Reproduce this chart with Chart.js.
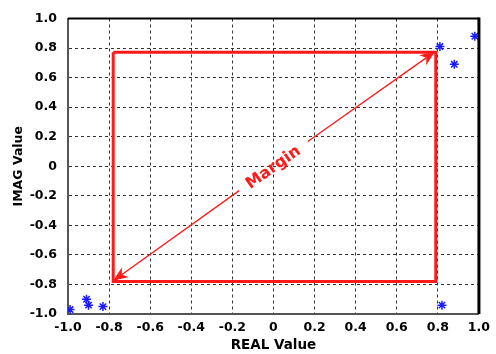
<!DOCTYPE html>
<html>
<head>
<meta charset="utf-8">
<script src="https://cdn.jsdelivr.net/npm/chart.js@4/dist/chart.umd.min.js"></script>
<style>
  html, body { margin: 0; padding: 0; background: #fff; }
  #wrap { width: 496px; height: 354px; }
</style>
</head>
<body>
<div id="wrap"><canvas id="chart"></canvas></div>
<script>
// measured constellation points
var pointsX = [0.98, 0.81, 0.88, 0.82, -0.99, -0.91, -0.90, -0.83];
var pointsY = [0.88, 0.81, 0.69, -0.94, -0.97, -0.90, -0.94, -0.95];

// margin box
var boxX = [-0.78, 0.79, 0.79, -0.78, -0.78];
var boxY = [0.772, 0.772, -0.78, -0.78, 0.772];

// double arrow, split around the label
var arrowX = [-0.78, -0.167, null, 0.167, 0.786];
var arrowY = [-0.775, -0.165, null, 0.167, 0.776];

var tickValues = [-1.0, -0.8, -0.6, -0.4, -0.2, 0, 0.2, 0.4, 0.6, 0.8, 1.0];
var tickLabels = ['-1.0', '-0.8', '-0.6', '-0.4', '-0.2', '0', '0.2', '0.4', '0.6', '0.8', '1.0'];
var labelText = 'Margin';
var labelAt = [0, -0.01];

var RED = '#ff1a1a';
var FONT = "'DejaVu Sans', sans-serif";

function toXY(xs, ys) {
  return xs.map(function (x, i) { return { x: x, y: (x === null ? null : ys[i]) }; });
}

function tickLabel(v) {
  for (var i = 0; i < tickValues.length; i++) {
    if (Math.abs(tickValues[i] - v) < 1e-6) return tickLabels[i];
  }
  return '';
}

function arrowHead(ctx, x1, y1, x2, y2) {
  var a = Math.atan2(y2 - y1, x2 - x1);
  var len = 15, w = 6;
  ctx.beginPath();
  ctx.moveTo(x2, y2);
  ctx.lineTo(x2 - len * Math.cos(a) + w * Math.sin(a), y2 - len * Math.sin(a) - w * Math.cos(a));
  ctx.lineTo(x2 - len * Math.cos(a) * 0.7, y2 - len * Math.sin(a) * 0.7);
  ctx.lineTo(x2 - len * Math.cos(a) - w * Math.sin(a), y2 - len * Math.sin(a) + w * Math.cos(a));
  ctx.closePath();
  ctx.fill();
}

var extras = {
  id: 'extras',
  afterDatasetsDraw: function (chart) {
    var ctx = chart.ctx, xs = chart.scales.x, ys = chart.scales.y, a = chart.chartArea;
    ctx.save();
    // arrow heads
    ctx.fillStyle = RED;
    var p0 = [xs.getPixelForValue(arrowX[0]), ys.getPixelForValue(arrowY[0])];
    var p1 = [xs.getPixelForValue(arrowX[1]), ys.getPixelForValue(arrowY[1])];
    var p3 = [xs.getPixelForValue(arrowX[3]), ys.getPixelForValue(arrowY[3])];
    var p4 = [xs.getPixelForValue(arrowX[4]), ys.getPixelForValue(arrowY[4])];
    arrowHead(ctx, p1[0], p1[1], p0[0], p0[1]);
    arrowHead(ctx, p3[0], p3[1], p4[0], p4[1]);
    // label
    var ang = Math.atan2(p4[1] - p0[1], p4[0] - p0[0]);
    ctx.translate(xs.getPixelForValue(labelAt[0]), ys.getPixelForValue(labelAt[1]));
    ctx.rotate(ang);
    ctx.font = 'bold 16px ' + FONT;
    ctx.textAlign = 'center';
    ctx.textBaseline = 'middle';
    ctx.fillText(labelText, 0, 0);
    ctx.restore();
    // top and right frame
    ctx.save();
    ctx.strokeStyle = '#000';
    ctx.lineWidth = 2;
    ctx.beginPath();
    ctx.moveTo(a.left, a.top);
    ctx.lineTo(a.right, a.top);
    ctx.stroke();
    ctx.lineWidth = 3;
    ctx.beginPath();
    ctx.moveTo(a.right, a.top - 1);
    ctx.lineTo(a.right, a.bottom);
    ctx.stroke();
    ctx.restore();
  }
};

var gridOpts = {
  color: '#333',
  lineWidth: 1,
  drawTicks: false
};

new Chart(document.getElementById('chart').getContext('2d'), {
  type: 'scatter',
  data: {
    datasets: [
      {
        label: 'box',
        type: 'line',
        data: toXY(boxX, boxY),
        borderColor: RED,
        borderWidth: 3,
        pointRadius: 0,
        fill: false,
        tension: 0
      },
      {
        label: 'arrow',
        type: 'line',
        data: toXY(arrowX, arrowY),
        borderColor: RED,
        borderWidth: 1.3,
        pointRadius: 0,
        spanGaps: false,
        fill: false
      },
      {
        label: 'points',
        data: toXY(pointsX, pointsY),
        pointStyle: 'star',
        pointRadius: 4.5,
        borderColor: '#1a1aff',
        backgroundColor: '#1a1aff',
        borderWidth: 1.5
      }
    ]
  },
  plugins: [extras],
  options: {
    responsive: true,
    maintainAspectRatio: false,
    animation: false,
    layout: { padding: { left: 0, right: 16, top: 13, bottom: 0 } },
    plugins: { legend: { display: false }, tooltip: { enabled: false } },
    scales: {
      x: {
        type: 'linear',
        min: -1, max: 1,
        afterFit: function (s) { s.height = 40; },
        afterBuildTicks: function (s) { s.ticks = tickValues.map(function (v) { return { value: v }; }); },
        ticks: {
          callback: tickLabel,
          padding: 6,
          color: '#000',
          font: { family: FONT, size: 12.5, weight: 'bold' },
          maxRotation: 0
        },
        grid: Object.assign({ }, gridOpts),
        border: { color: '#555', width: 2, dash: [3, 3] },
        title: {
          display: true,
          text: 'REAL Value',
          color: '#000',
          font: { family: FONT, size: 13.5, weight: 'bold' },
          padding: { top: 0, bottom: 0 }
        }
      },
      y: {
        type: 'linear',
        min: -1, max: 1,
        afterFit: function (s) { s.width = 68; },
        afterBuildTicks: function (s) { s.ticks = tickValues.map(function (v) { return { value: v }; }); },
        ticks: {
          callback: tickLabel,
          padding: 11,
          color: '#000',
          font: { family: FONT, size: 12.5, weight: 'bold' }
        },
        grid: Object.assign({ }, gridOpts),
        border: { color: '#555', width: 2, dash: [3, 3] },
        title: {
          display: true,
          text: 'IMAG Value',
          color: '#000',
          font: { family: FONT, size: 12.5, weight: 'bold' },
          padding: { top: 11, bottom: 0 }
        }
      }
    }
  }
});
</script>
</body>
</html>
